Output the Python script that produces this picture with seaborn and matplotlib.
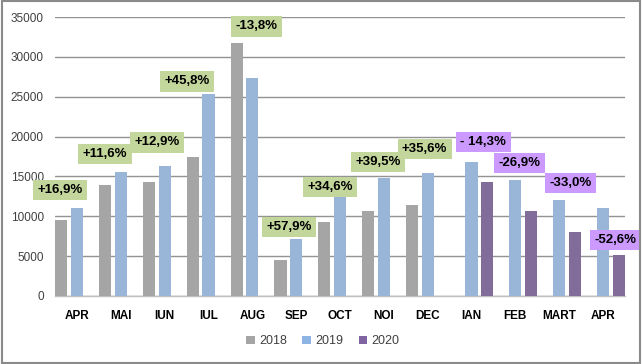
import matplotlib
matplotlib.use("Agg")
import matplotlib.pyplot as plt
import seaborn as sns
import pandas as pd
from matplotlib.patches import Patch, Rectangle

# ---- data ----
months = ["APR", "MAI", "IUN", "IUL", "AUG", "SEP", "OCT", "NOI", "DEC",
          "IAN", "FEB", "MART", "APR"]
years = ["2018", "2019", "2020"]
v2018 = [9500, 13900, 14300, 17500, 31700, 4500, 9250, 10650, 11400,
         None, None, None, None]
v2019 = [11100, 15500, 16300, 25400, 27300, 7200, 12450, 14850, 15450,
         16750, 14550, 12050, 11100]
v2020 = [None, None, None, None, None, None, None, None, None,
         14300, 10650, 8070, 5200]
pct_labels = ["+16,9%", "+11,6%", "+12,9%", "+45,8%", "-13,8%", "+57,9%",
              "+34,6%", "+39,5%", "+35,6%", "- 14,3%", "-26,9%", "-33,0%",
              "-52,6%"]

# annotation positions (data units)
label_x = [-0.39, 0.64, 1.83, 2.51, 4.09, 4.84, 5.78, 6.87, 7.93,
           9.27, 10.09, 11.26, 12.29]
label_y = [13300, 17800, 19300, 26950, 33850, 8650, 13670, 16800, 18430,
           19310, 16680, 14170, 7020]

keys = [f"{i}_{m}" for i, m in enumerate(months)]
rows = []
for yr, vals in zip(years, [v2018, v2019, v2020]):
    for k, v in zip(keys, vals):
        if v is not None:
            rows.append({"month": k, "year": yr, "value": v})
df = pd.DataFrame(rows)

colors = {"2018": "#A5A5A5", "2019": "#8EB4E3", "2020": "#8064A2"}

sns.set_theme(style="white")
plt.rcParams["font.family"] = ["Liberation Sans", "DejaVu Sans"]

fig = plt.figure(figsize=(6.42, 3.64), dpi=100)
ax = fig.add_axes([55 / 642, 1 - 296 / 364, 570 / 642, 279 / 364])

sns.barplot(data=df, x="month", y="value", hue="year", order=keys,
            hue_order=years, palette=colors, width=1.07, gap=0.22,
            linewidth=0, ax=ax, legend=False, zorder=3)

ax.set_xlim(-0.5, len(keys) - 0.5)
ax.set_ylim(0, 35000)
ax.set_yticks(range(0, 35001, 5000))
ax.set_yticklabels([str(t) for t in range(0, 35001, 5000)],
                   fontsize=8.5, color="#404040")
ax.set_xticks(range(len(keys)))
ax.set_xticklabels(months, fontsize=8.5, fontweight="bold", color="#000000")
ax.tick_params(axis="x", length=0, pad=10)
ax.tick_params(axis="y", length=0, pad=8)
ax.set_xlabel("")
ax.set_ylabel("")

ax.yaxis.grid(True, color="#939393", linewidth=1.0, zorder=0)
ax.set_axisbelow(True)
for s in ["top", "right", "left"]:
    ax.spines[s].set_visible(False)
ax.spines["bottom"].set_color("#BFBFBF")
ax.spines["bottom"].set_linewidth(1.0)

for i, (txt, lx, ly) in enumerate(zip(pct_labels, label_x, label_y)):
    fc = "#C3D69B" if i < 9 else "#CC99FF"
    ax.text(lx, ly, txt, ha="center", va="center", fontsize=9.5,
            fontweight="bold", color="#000000", zorder=10,
            bbox=dict(boxstyle="square,pad=0.33", fc=fc, ec="none"))

handles = [Patch(facecolor=colors[y], edgecolor="none", label=y) for y in years]
fig.legend(handles=handles, loc="center", bbox_to_anchor=(323 / 642, 1 - 341.5 / 364),
           ncol=3, frameon=False, fontsize=9, handlelength=0.65,
           handleheight=0.65, handletextpad=0.4, columnspacing=1.2,
           labelcolor="#404040")

fig.add_artist(Rectangle((0.003, 0.004), 0.994, 0.992, transform=fig.transFigure,
                         fill=False, edgecolor="#8A8A8A", linewidth=1.5))

fig.savefig("out.png", dpi=100)
